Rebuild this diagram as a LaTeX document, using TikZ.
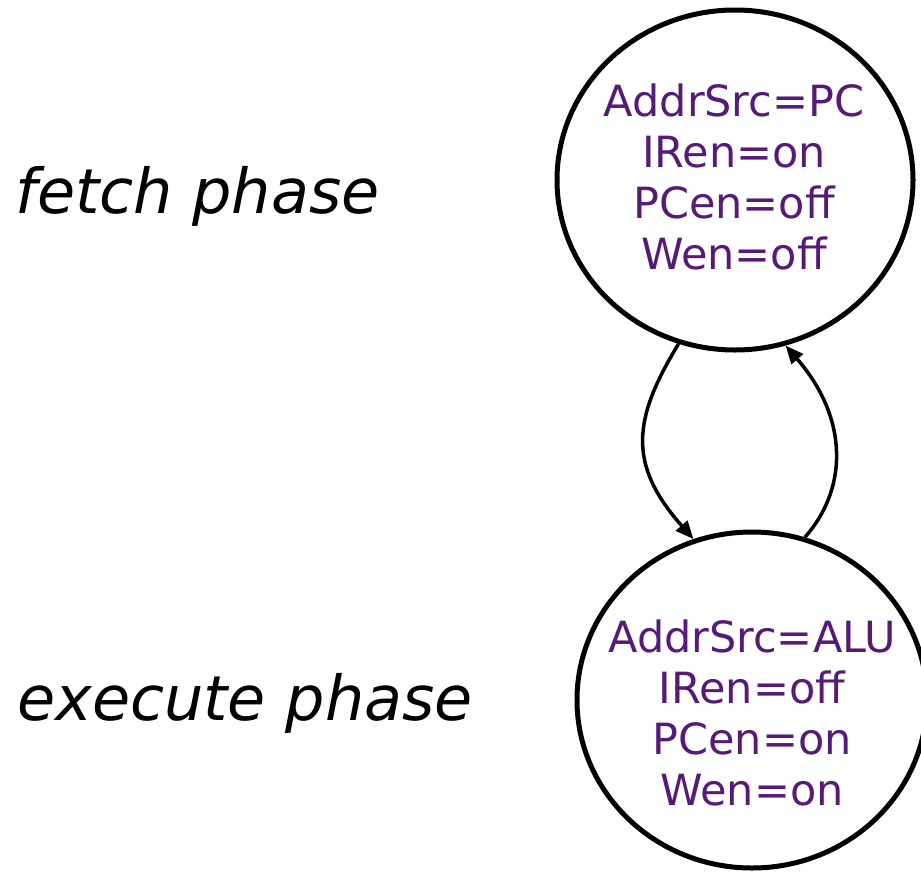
\documentclass[tikz,border=0pt]{standalone}
\usepackage{fontspec}
\setmainfont{DejaVu Sans}
\usetikzlibrary{shapes.geometric,arrows.meta}
\definecolor{sigpurple}{RGB}{86,27,121}
\tikzset{
  state/.style={draw=black, line width=5pt, ellipse, inner sep=0pt},
  sigs/.style={text=sigpurple, align=center, inner sep=0pt,
    font=\fontsize{43}{51}\selectfont},
  phase/.style={anchor=base west, inner sep=0pt,
    font=\fontsize{62}{70}\selectfont\itshape},
  trans/.style={draw=black, line width=3.5pt,
    -{Triangle[length=18pt,width=15pt]}}
}
\begin{document}
\begin{tikzpicture}[x=1pt,y=-1pt]
  \path[use as bounding box] (0,0) rectangle (921,873);

  % the two states of the control FSM
  \node[state, minimum width=356pt, minimum height=340pt] (fetch) at (735,180) {};
  \node[state, minimum width=350pt, minimum height=336pt] (exec) at (752,700) {};

  % control signal settings in each state
  \node[sigs] (fetchsig) at (734,177) {AddrSrc=PC\\IRen=on\\PCen=off\\Wen=off};
  \node[sigs] (execsig) at (752,713) {AddrSrc=ALU\\IRen=off\\PCen=on\\Wen=on};

  % phase labels
  \node[phase] (fetchlbl) at (15,213) {fetch phase};
  \node[phase] (execlbl) at (17,720) {execute phase};

  % transitions
  \draw[trans] (fetch.251) .. controls (632,420) and (628,465) .. (exec.110);
  \draw[trans] (exec.72) .. controls (847,490) and (850,420) .. (fetch.287);
\end{tikzpicture}
\end{document}
